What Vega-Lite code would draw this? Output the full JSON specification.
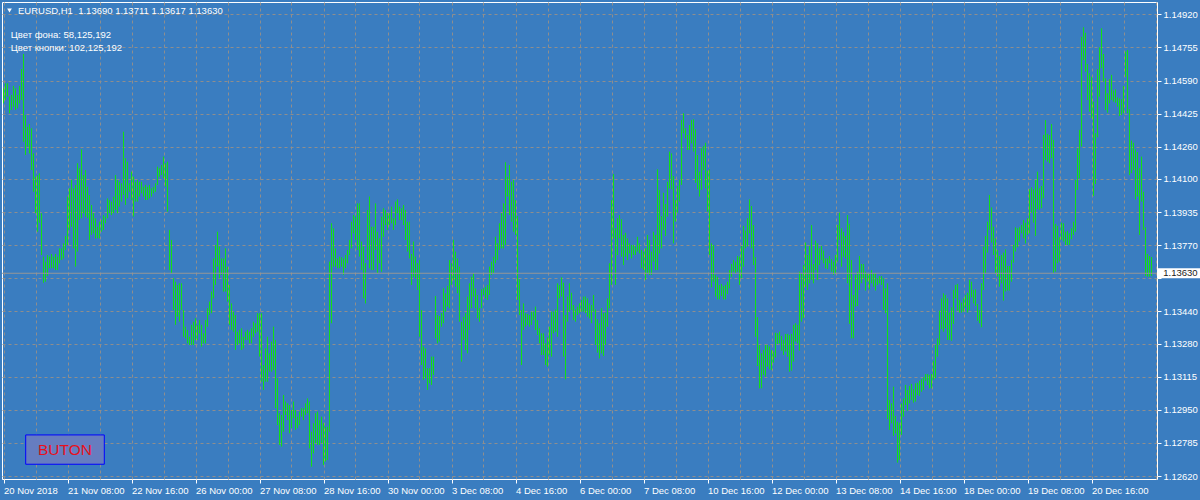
{
"$schema": "https://vega.github.io/schema/vega-lite/v6.json",
"width": 1155,
"height": 477,
"autosize": {"type": "none"},
"padding": {"left": 2, "top": 2, "right": 43, "bottom": 21},
"background": "#3a7dc0",
"config": {"view": {"stroke": "#ffffff", "strokeWidth": 1, "fill": null}},
"resolve": {"axis": {"x": "independent", "y": "independent"}, "scale": {"x": "shared", "y": "shared"}},
"datasets": {
"bars": [
{"t":0,"h":1.14551,"l":1.14476},{"t":1,"h":1.14576,"l":1.14493},{"t":2,"h":1.14576,"l":1.1451},{"t":3,"h":1.1451,"l":1.14427},{"t":4,"h":1.14518,"l":1.14443},{"t":5,"h":1.14563,"l":1.1446},{"t":6,"h":1.14551,"l":1.14443},{"t":7,"h":1.14518,"l":1.14451},{"t":8,"h":1.14563,"l":1.14476},{"t":9,"h":1.14647,"l":1.14493},
{"t":10,"h":1.14722,"l":1.14285},{"t":11,"h":1.14418,"l":1.14219},{"t":12,"h":1.1436,"l":1.14261},{"t":13,"h":1.14373,"l":1.14227},{"t":14,"h":1.14352,"l":1.14144},{"t":15,"h":1.14227,"l":1.14036},{"t":16,"h":1.14111,"l":1.13929},{"t":17,"h":1.14119,"l":1.13837},{"t":18,"h":1.14128,"l":1.13882},{"t":19,"h":1.13929,"l":1.13721},
{"t":20,"h":1.13713,"l":1.13583},{"t":21,"h":1.13688,"l":1.13588},{"t":22,"h":1.13721,"l":1.13616},{"t":23,"h":1.13713,"l":1.13655},{"t":24,"h":1.13726,"l":1.13655},{"t":25,"h":1.13713,"l":1.13655},{"t":26,"h":1.13726,"l":1.13646},{"t":27,"h":1.13713,"l":1.13646},{"t":28,"h":1.13754,"l":1.1368},{"t":29,"h":1.13754,"l":1.13696},
{"t":30,"h":1.13779,"l":1.13704},{"t":31,"h":1.13816,"l":1.13746},{"t":32,"h":1.14012,"l":1.13771},{"t":33,"h":1.14053,"l":1.13846},{"t":34,"h":1.14095,"l":1.13862},{"t":35,"h":1.14053,"l":1.13754},{"t":36,"h":1.1407,"l":1.13663},{"t":37,"h":1.14178,"l":1.13738},{"t":38,"h":1.14153,"l":1.13895},{"t":39,"h":1.14247,"l":1.13904},
{"t":40,"h":1.14119,"l":1.13929},{"t":41,"h":1.14144,"l":1.13912},{"t":42,"h":1.14061,"l":1.13904},{"t":43,"h":1.1402,"l":1.13796},{"t":44,"h":1.1397,"l":1.13821},{"t":45,"h":1.13929,"l":1.13829},{"t":46,"h":1.13904,"l":1.13804},{"t":47,"h":1.13862,"l":1.13804},{"t":48,"h":1.13887,"l":1.13804},{"t":49,"h":1.13895,"l":1.13837},
{"t":50,"h":1.1392,"l":1.13846},{"t":51,"h":1.13912,"l":1.13879},{"t":52,"h":1.14003,"l":1.13904},{"t":53,"h":1.13995,"l":1.13929},{"t":54,"h":1.13987,"l":1.1392},{"t":55,"h":1.14012,"l":1.13929},{"t":56,"h":1.14119,"l":1.13945},{"t":57,"h":1.14095,"l":1.13929},{"t":58,"h":1.14086,"l":1.13962},{"t":59,"h":1.14078,"l":1.13987},
{"t":60,"h":1.14335,"l":1.1402},{"t":61,"h":1.14203,"l":1.1397},{"t":62,"h":1.14186,"l":1.14003},{"t":63,"h":1.14078,"l":1.14036},{"t":64,"h":1.14136,"l":1.13995},{"t":65,"h":1.14111,"l":1.13912},{"t":66,"h":1.14086,"l":1.13987},{"t":67,"h":1.14095,"l":1.13987},{"t":68,"h":1.14086,"l":1.14012},{"t":69,"h":1.14086,"l":1.14028},
{"t":70,"h":1.14061,"l":1.14012},{"t":71,"h":1.1407,"l":1.13995},{"t":72,"h":1.14061,"l":1.13995},{"t":73,"h":1.1407,"l":1.14003},{"t":74,"h":1.14053,"l":1.14012},{"t":75,"h":1.14061,"l":1.14028},{"t":76,"h":1.14078,"l":1.14036},{"t":77,"h":1.14161,"l":1.1407},{"t":78,"h":1.14153,"l":1.14111},{"t":79,"h":1.14169,"l":1.14119},
{"t":80,"h":1.14211,"l":1.14103},{"t":81,"h":1.14178,"l":1.14061},{"t":82,"h":1.14186,"l":1.13937},{"t":83,"h":1.13846,"l":1.13646},{"t":84,"h":1.13796,"l":1.1363},{"t":85,"h":1.13605,"l":1.13447},{"t":86,"h":1.13588,"l":1.13373},{"t":87,"h":1.13572,"l":1.13414},{"t":88,"h":1.1358,"l":1.13389},{"t":89,"h":1.1358,"l":1.13447},
{"t":90,"h":1.13447,"l":1.13314},{"t":91,"h":1.13364,"l":1.13306},{"t":92,"h":1.13348,"l":1.13281},{"t":93,"h":1.13314,"l":1.13273},{"t":94,"h":1.13373,"l":1.13273},{"t":95,"h":1.13389,"l":1.13273},{"t":96,"h":1.13406,"l":1.13298},{"t":97,"h":1.13373,"l":1.13298},{"t":98,"h":1.13397,"l":1.13331},{"t":99,"h":1.13373,"l":1.13265},
{"t":100,"h":1.13331,"l":1.13281},{"t":101,"h":1.13397,"l":1.13281},{"t":102,"h":1.13456,"l":1.13364},{"t":103,"h":1.13489,"l":1.13422},{"t":104,"h":1.13539,"l":1.13431},{"t":105,"h":1.13704,"l":1.13505},{"t":106,"h":1.13771,"l":1.13572},{"t":107,"h":1.13837,"l":1.13663},{"t":108,"h":1.13763,"l":1.13605},{"t":109,"h":1.13704,"l":1.13622},
{"t":110,"h":1.13704,"l":1.13539},{"t":111,"h":1.13754,"l":1.13539},{"t":112,"h":1.13663,"l":1.13489},{"t":113,"h":1.13572,"l":1.13373},{"t":114,"h":1.1348,"l":1.13348},{"t":115,"h":1.13439,"l":1.13339},{"t":116,"h":1.13422,"l":1.13248},{"t":117,"h":1.13339,"l":1.13273},{"t":118,"h":1.13348,"l":1.13281},{"t":119,"h":1.13356,"l":1.13248},
{"t":120,"h":1.13314,"l":1.13256},{"t":121,"h":1.13339,"l":1.13298},{"t":122,"h":1.13348,"l":1.13298},{"t":123,"h":1.13339,"l":1.13281},{"t":124,"h":1.13356,"l":1.13281},{"t":125,"h":1.13389,"l":1.13314},{"t":126,"h":1.13381,"l":1.13331},{"t":127,"h":1.13431,"l":1.13339},{"t":128,"h":1.13431,"l":1.13215},{"t":129,"h":1.13431,"l":1.1309},
{"t":130,"h":1.13173,"l":1.13049},{"t":131,"h":1.13256,"l":1.1309},{"t":132,"h":1.13314,"l":1.1309},{"t":133,"h":1.13231,"l":1.1314},{"t":134,"h":1.1329,"l":1.1314},{"t":135,"h":1.13364,"l":1.13148},{"t":136,"h":1.13298,"l":1.12958},{"t":137,"h":1.13107,"l":1.12874},{"t":138,"h":1.12933,"l":1.12775},{"t":139,"h":1.12924,"l":1.12767},
{"t":140,"h":1.13024,"l":1.12841},{"t":141,"h":1.12991,"l":1.12924},{"t":142,"h":1.12982,"l":1.12899},{"t":143,"h":1.12974,"l":1.12833},{"t":144,"h":1.12949,"l":1.12858},{"t":145,"h":1.12991,"l":1.12908},{"t":146,"h":1.12949,"l":1.1285},{"t":147,"h":1.12916,"l":1.12858},{"t":148,"h":1.12941,"l":1.12874},{"t":149,"h":1.12958,"l":1.12916},
{"t":150,"h":1.12958,"l":1.12899},{"t":151,"h":1.12982,"l":1.12924},{"t":152,"h":1.13007,"l":1.12933},{"t":153,"h":1.12991,"l":1.12758},{"t":154,"h":1.12841,"l":1.12667},{"t":155,"h":1.12883,"l":1.12733},{"t":156,"h":1.12933,"l":1.12783},{"t":157,"h":1.12941,"l":1.12775},{"t":158,"h":1.12899,"l":1.12775},{"t":159,"h":1.12916,"l":1.12783},
{"t":160,"h":1.12883,"l":1.12675},{"t":161,"h":1.12866,"l":1.12692},{"t":162,"h":1.12866,"l":1.127},{"t":163,"h":1.13688,"l":1.12841},{"t":164,"h":1.13879,"l":1.13381},{"t":165,"h":1.13854,"l":1.13663},{"t":166,"h":1.13754,"l":1.13663},{"t":167,"h":1.13704,"l":1.13655},{"t":168,"h":1.13713,"l":1.13655},{"t":169,"h":1.1371,"l":1.13663},
{"t":170,"h":1.13704,"l":1.13622},{"t":171,"h":1.13721,"l":1.13655},{"t":172,"h":1.13746,"l":1.1368},{"t":173,"h":1.13796,"l":1.13721},{"t":174,"h":1.13887,"l":1.13754},{"t":175,"h":1.1392,"l":1.13829},{"t":176,"h":1.13912,"l":1.13796},{"t":177,"h":1.13978,"l":1.13746},{"t":178,"h":1.13978,"l":1.13713},{"t":179,"h":1.13788,"l":1.13646},
{"t":180,"h":1.13763,"l":1.13505},{"t":181,"h":1.1368,"l":1.1348},{"t":182,"h":1.13945,"l":1.13696},{"t":183,"h":1.14012,"l":1.13655},{"t":184,"h":1.13862,"l":1.13646},{"t":185,"h":1.13862,"l":1.13646},{"t":186,"h":1.13978,"l":1.13746},{"t":187,"h":1.13837,"l":1.1363},{"t":188,"h":1.13804,"l":1.1368},{"t":189,"h":1.13912,"l":1.13638},
{"t":190,"h":1.13954,"l":1.13812},{"t":191,"h":1.13945,"l":1.1387},{"t":192,"h":1.13929,"l":1.13846},{"t":193,"h":1.13929,"l":1.1387},{"t":194,"h":1.13962,"l":1.13879},{"t":195,"h":1.13904,"l":1.13846},{"t":196,"h":1.13987,"l":1.1387},{"t":197,"h":1.13998,"l":1.13929},{"t":198,"h":1.13962,"l":1.13895},{"t":199,"h":1.13954,"l":1.13895},
{"t":200,"h":1.1397,"l":1.1387},{"t":201,"h":1.13945,"l":1.13796},{"t":202,"h":1.13887,"l":1.13738},{"t":203,"h":1.13887,"l":1.13704},{"t":204,"h":1.13726,"l":1.13572},{"t":205,"h":1.13788,"l":1.13613},{"t":206,"h":1.13713,"l":1.13605},{"t":207,"h":1.1368,"l":1.13547},{"t":208,"h":1.13696,"l":1.13314},{"t":209,"h":1.13447,"l":1.13173},
{"t":210,"h":1.13265,"l":1.13099},{"t":211,"h":1.13256,"l":1.13107},{"t":212,"h":1.13157,"l":1.13049},{"t":213,"h":1.13157,"l":1.13082},{"t":214,"h":1.13215,"l":1.13074},{"t":215,"h":1.13215,"l":1.13124},{"t":216,"h":1.13517,"l":1.13306},{"t":217,"h":1.13422,"l":1.13281},{"t":218,"h":1.13417,"l":1.1329},{"t":219,"h":1.13431,"l":1.13364},
{"t":220,"h":1.13555,"l":1.13381},{"t":221,"h":1.1353,"l":1.13439},{"t":222,"h":1.13567,"l":1.13464},{"t":223,"h":1.13696,"l":1.13456},{"t":224,"h":1.1368,"l":1.13572},{"t":225,"h":1.13796,"l":1.13597},{"t":226,"h":1.13738,"l":1.13563},{"t":227,"h":1.13704,"l":1.1353},{"t":228,"h":1.13663,"l":1.13389},{"t":229,"h":1.13389,"l":1.1319},
{"t":230,"h":1.13414,"l":1.13298},{"t":231,"h":1.13431,"l":1.13248},{"t":232,"h":1.13514,"l":1.13231},{"t":233,"h":1.1358,"l":1.13348},{"t":234,"h":1.13613,"l":1.13456},{"t":235,"h":1.1363,"l":1.13514},{"t":236,"h":1.13555,"l":1.13456},{"t":237,"h":1.13522,"l":1.13406},{"t":238,"h":1.13456,"l":1.13389},{"t":239,"h":1.1355,"l":1.13456},
{"t":240,"h":1.13555,"l":1.13522},{"t":241,"h":1.13563,"l":1.13505},{"t":242,"h":1.13572,"l":1.13497},{"t":243,"h":1.13663,"l":1.13522},{"t":244,"h":1.13688,"l":1.13622},{"t":245,"h":1.13713,"l":1.1363},{"t":246,"h":1.13812,"l":1.1368},{"t":247,"h":1.13779,"l":1.13696},{"t":248,"h":1.13879,"l":1.13746},{"t":249,"h":1.13929,"l":1.13754},
{"t":250,"h":1.13978,"l":1.13754},{"t":251,"h":1.14183,"l":1.13771},{"t":252,"h":1.14111,"l":1.14012},{"t":253,"h":1.14169,"l":1.1392},{"t":254,"h":1.14086,"l":1.13887},{"t":255,"h":1.14095,"l":1.13837},{"t":256,"h":1.13995,"l":1.13821},{"t":257,"h":1.13915,"l":1.13497},{"t":258,"h":1.136,"l":1.13422},{"t":259,"h":1.13447,"l":1.13173},
{"t":260,"h":1.1348,"l":1.13348},{"t":261,"h":1.13431,"l":1.13364},{"t":262,"h":1.13427,"l":1.13373},{"t":263,"h":1.13422,"l":1.13364},{"t":264,"h":1.13439,"l":1.13373},{"t":265,"h":1.13439,"l":1.13397},{"t":266,"h":1.13464,"l":1.13348},{"t":267,"h":1.13397,"l":1.13323},{"t":268,"h":1.13356,"l":1.13281},{"t":269,"h":1.13331,"l":1.13223},
{"t":270,"h":1.13331,"l":1.13223},{"t":271,"h":1.13281,"l":1.13173},{"t":272,"h":1.13311,"l":1.13165},{"t":273,"h":1.13364,"l":1.13223},{"t":274,"h":1.13439,"l":1.13215},{"t":275,"h":1.13439,"l":1.13331},{"t":276,"h":1.1345,"l":1.13339},{"t":277,"h":1.1358,"l":1.13314},{"t":278,"h":1.13572,"l":1.13505},{"t":279,"h":1.1361,"l":1.13514},
{"t":280,"h":1.13583,"l":1.13215},{"t":281,"h":1.13422,"l":1.13102},{"t":282,"h":1.13514,"l":1.13389},{"t":283,"h":1.1358,"l":1.13439},{"t":284,"h":1.13533,"l":1.13447},{"t":285,"h":1.13472,"l":1.13397},{"t":286,"h":1.1345,"l":1.13389},{"t":287,"h":1.13464,"l":1.13422},{"t":288,"h":1.1348,"l":1.13431},{"t":289,"h":1.13497,"l":1.13439},
{"t":290,"h":1.13514,"l":1.13439},{"t":291,"h":1.13514,"l":1.13431},{"t":292,"h":1.13505,"l":1.13414},{"t":293,"h":1.1348,"l":1.13406},{"t":294,"h":1.13472,"l":1.13381},{"t":295,"h":1.13522,"l":1.13439},{"t":296,"h":1.1345,"l":1.13273},{"t":297,"h":1.13401,"l":1.13235},{"t":298,"h":1.13381,"l":1.13206},{"t":299,"h":1.13456,"l":1.13231},
{"t":300,"h":1.13431,"l":1.13218},{"t":301,"h":1.13434,"l":1.13273},{"t":302,"h":1.13505,"l":1.13364},{"t":303,"h":1.1368,"l":1.13456},{"t":304,"h":1.13995,"l":1.13572},{"t":305,"h":1.14124,"l":1.13804},{"t":306,"h":1.13854,"l":1.13572},{"t":307,"h":1.13904,"l":1.13721},{"t":308,"h":1.1392,"l":1.13804},{"t":309,"h":1.13899,"l":1.13713},
{"t":310,"h":1.13821,"l":1.13671},{"t":311,"h":1.13832,"l":1.13713},{"t":312,"h":1.13804,"l":1.13696},{"t":313,"h":1.13779,"l":1.13729},{"t":314,"h":1.13771,"l":1.13704},{"t":315,"h":1.13771,"l":1.13721},{"t":316,"h":1.13763,"l":1.13721},{"t":317,"h":1.13812,"l":1.13738},{"t":318,"h":1.13779,"l":1.13729},{"t":319,"h":1.13746,"l":1.13655},
{"t":320,"h":1.13738,"l":1.13646},{"t":321,"h":1.13754,"l":1.13597},{"t":322,"h":1.13821,"l":1.1363},{"t":323,"h":1.13796,"l":1.13622},{"t":324,"h":1.13738,"l":1.13622},{"t":325,"h":1.13837,"l":1.13688},{"t":326,"h":1.13821,"l":1.13646},{"t":327,"h":1.14148,"l":1.13646},{"t":328,"h":1.14045,"l":1.13729},{"t":329,"h":1.13915,"l":1.13754},
{"t":330,"h":1.14031,"l":1.13846},{"t":331,"h":1.13975,"l":1.13816},{"t":332,"h":1.14086,"l":1.13912},{"t":333,"h":1.14236,"l":1.14053},{"t":334,"h":1.14227,"l":1.14048},{"t":335,"h":1.14114,"l":1.13779},{"t":336,"h":1.13995,"l":1.13887},{"t":337,"h":1.14065,"l":1.13932},{"t":338,"h":1.14095,"l":1.13987},{"t":339,"h":1.14393,"l":1.1407},
{"t":340,"h":1.14427,"l":1.14327},{"t":341,"h":1.14352,"l":1.14302},{"t":342,"h":1.14319,"l":1.14244},{"t":343,"h":1.14368,"l":1.14244},{"t":344,"h":1.14393,"l":1.14277},{"t":345,"h":1.14397,"l":1.14236},{"t":346,"h":1.14347,"l":1.14081},{"t":347,"h":1.14219,"l":1.14048},{"t":348,"h":1.14136,"l":1.14012},{"t":349,"h":1.14252,"l":1.14045},
{"t":350,"h":1.14264,"l":1.14144},{"t":351,"h":1.1428,"l":1.14053},{"t":352,"h":1.14141,"l":1.13937},{"t":353,"h":1.14148,"l":1.13721},{"t":354,"h":1.13779,"l":1.1356},{"t":355,"h":1.13771,"l":1.13588},{"t":356,"h":1.13622,"l":1.13514},{"t":357,"h":1.13613,"l":1.135},{"t":358,"h":1.13572,"l":1.135},{"t":359,"h":1.13577,"l":1.13517},
{"t":360,"h":1.13567,"l":1.135},{"t":361,"h":1.13572,"l":1.135},{"t":362,"h":1.13588,"l":1.13527},{"t":363,"h":1.13646,"l":1.13555},{"t":364,"h":1.13676,"l":1.13613},{"t":365,"h":1.13696,"l":1.13638},{"t":366,"h":1.13688,"l":1.1363},{"t":367,"h":1.13716,"l":1.13638},{"t":368,"h":1.13713,"l":1.13572},{"t":369,"h":1.13766,"l":1.13605},
{"t":370,"h":1.13866,"l":1.13663},{"t":371,"h":1.13842,"l":1.13754},{"t":372,"h":1.13904,"l":1.13763},{"t":373,"h":1.13998,"l":1.13829},{"t":374,"h":1.13965,"l":1.13754},{"t":375,"h":1.1387,"l":1.13671},{"t":376,"h":1.1371,"l":1.13314},{"t":377,"h":1.13411,"l":1.13168},{"t":378,"h":1.13273,"l":1.13057},{"t":379,"h":1.13231,"l":1.13057},
{"t":380,"h":1.13248,"l":1.13124},{"t":381,"h":1.13273,"l":1.13115},{"t":382,"h":1.13273,"l":1.13165},{"t":383,"h":1.13265,"l":1.13152},{"t":384,"h":1.13248,"l":1.13148},{"t":385,"h":1.1324,"l":1.13185},{"t":386,"h":1.13334,"l":1.13211},{"t":387,"h":1.13331,"l":1.13278},{"t":388,"h":1.13339,"l":1.13281},{"t":389,"h":1.13318,"l":1.13245},
{"t":390,"h":1.13298,"l":1.13223},{"t":391,"h":1.13328,"l":1.1324},{"t":392,"h":1.13328,"l":1.13215},{"t":393,"h":1.13323,"l":1.1314},{"t":394,"h":1.13328,"l":1.13145},{"t":395,"h":1.13373,"l":1.1319},{"t":396,"h":1.13381,"l":1.1329},{"t":397,"h":1.13373,"l":1.13281},{"t":398,"h":1.13638,"l":1.13245},{"t":399,"h":1.1363,"l":1.13389},
{"t":400,"h":1.13671,"l":1.13406},{"t":401,"h":1.13783,"l":1.13563},{"t":402,"h":1.13721,"l":1.13547},{"t":403,"h":1.13766,"l":1.1358},{"t":404,"h":1.1387,"l":1.13597},{"t":405,"h":1.13676,"l":1.1358},{"t":406,"h":1.13793,"l":1.13646},{"t":407,"h":1.13779,"l":1.13597},{"t":408,"h":1.13754,"l":1.13671},{"t":409,"h":1.13766,"l":1.13696},
{"t":410,"h":1.13743,"l":1.1368},{"t":411,"h":1.13704,"l":1.13655},{"t":412,"h":1.13704,"l":1.1365},{"t":413,"h":1.13716,"l":1.1368},{"t":414,"h":1.137,"l":1.13638},{"t":415,"h":1.13688,"l":1.13622},{"t":416,"h":1.13721,"l":1.1363},{"t":417,"h":1.1387,"l":1.13688},{"t":418,"h":1.13932,"l":1.13796},{"t":419,"h":1.13854,"l":1.13663},
{"t":420,"h":1.13837,"l":1.13713},{"t":421,"h":1.13816,"l":1.13704},{"t":422,"h":1.1392,"l":1.1358},{"t":423,"h":1.13876,"l":1.13378},{"t":424,"h":1.13696,"l":1.13306},{"t":425,"h":1.13522,"l":1.13306},{"t":426,"h":1.13622,"l":1.13464},{"t":427,"h":1.13638,"l":1.13467},{"t":428,"h":1.13716,"l":1.13547},{"t":429,"h":1.13676,"l":1.1358},
{"t":430,"h":1.13676,"l":1.13605},{"t":431,"h":1.13638,"l":1.13544},{"t":432,"h":1.1363,"l":1.13588},{"t":433,"h":1.13627,"l":1.1355},{"t":434,"h":1.13646,"l":1.1358},{"t":435,"h":1.1363,"l":1.13563},{"t":436,"h":1.1363,"l":1.13544},{"t":437,"h":1.13605,"l":1.13572},{"t":438,"h":1.13616,"l":1.1358},{"t":439,"h":1.13616,"l":1.13572},
{"t":440,"h":1.13605,"l":1.13447},{"t":441,"h":1.13555,"l":1.13431},{"t":442,"h":1.1358,"l":1.12903},{"t":443,"h":1.12999,"l":1.1285},{"t":444,"h":1.12982,"l":1.12883},{"t":445,"h":1.13065,"l":1.1282},{"t":446,"h":1.12919,"l":1.12833},{"t":447,"h":1.12891,"l":1.12687},{"t":448,"h":1.12886,"l":1.127},{"t":449,"h":1.12982,"l":1.12825},
{"t":450,"h":1.13007,"l":1.12916},{"t":451,"h":1.13074,"l":1.12974},{"t":452,"h":1.13049,"l":1.12946},{"t":453,"h":1.13069,"l":1.12982},{"t":454,"h":1.13079,"l":1.12999},{"t":455,"h":1.13052,"l":1.12986},{"t":456,"h":1.13082,"l":1.12991},{"t":457,"h":1.13085,"l":1.13024},{"t":458,"h":1.13095,"l":1.13019},{"t":459,"h":1.13102,"l":1.1304},
{"t":460,"h":1.13112,"l":1.13049},{"t":461,"h":1.13128,"l":1.13095},{"t":462,"h":1.13128,"l":1.13074},{"t":463,"h":1.13124,"l":1.13057},{"t":464,"h":1.13128,"l":1.13057},{"t":465,"h":1.13195,"l":1.13099},{"t":466,"h":1.13273,"l":1.13107},{"t":467,"h":1.13306,"l":1.13215},{"t":468,"h":1.13444,"l":1.13273},{"t":469,"h":1.13505,"l":1.13351},
{"t":470,"h":1.1353,"l":1.13339},{"t":471,"h":1.13522,"l":1.13356},{"t":472,"h":1.13505,"l":1.13298},{"t":473,"h":1.13434,"l":1.13298},{"t":474,"h":1.1346,"l":1.13294},{"t":475,"h":1.13547,"l":1.13378},{"t":476,"h":1.13572,"l":1.13505},{"t":477,"h":1.13577,"l":1.13444},{"t":478,"h":1.13497,"l":1.13434},{"t":479,"h":1.13484,"l":1.13434},
{"t":480,"h":1.13505,"l":1.13439},{"t":481,"h":1.13522,"l":1.1346},{"t":482,"h":1.13533,"l":1.13434},{"t":483,"h":1.13597,"l":1.13447},{"t":484,"h":1.13588,"l":1.1351},{"t":485,"h":1.13547,"l":1.1348},{"t":486,"h":1.1355,"l":1.13467},{"t":487,"h":1.13477,"l":1.13394},{"t":488,"h":1.13447,"l":1.13381},{"t":489,"h":1.1358,"l":1.13361},
{"t":490,"h":1.13763,"l":1.13547},{"t":491,"h":1.13816,"l":1.1363},{"t":492,"h":1.13887,"l":1.13733},{"t":493,"h":1.1402,"l":1.13846},{"t":494,"h":1.13958,"l":1.13783},{"t":495,"h":1.13862,"l":1.13721},{"t":496,"h":1.13804,"l":1.1363},{"t":497,"h":1.13746,"l":1.13613},{"t":498,"h":1.13716,"l":1.13563},{"t":499,"h":1.13721,"l":1.1358},
{"t":500,"h":1.13733,"l":1.13494},{"t":501,"h":1.13749,"l":1.13539},{"t":502,"h":1.13666,"l":1.13544},{"t":503,"h":1.13666,"l":1.13544},{"t":504,"h":1.13696,"l":1.13588},{"t":505,"h":1.13771,"l":1.13683},{"t":506,"h":1.13859,"l":1.13738},{"t":507,"h":1.13854,"l":1.13759},{"t":508,"h":1.13859,"l":1.13788},{"t":509,"h":1.1387,"l":1.13829},
{"t":510,"h":1.13895,"l":1.13804},{"t":511,"h":1.13882,"l":1.13779},{"t":512,"h":1.13904,"l":1.13821},{"t":513,"h":1.14048,"l":1.13829},{"t":514,"h":1.14058,"l":1.13932},{"t":515,"h":1.14048,"l":1.13882},{"t":516,"h":1.14095,"l":1.13816},{"t":517,"h":1.14136,"l":1.13949},{"t":518,"h":1.14053,"l":1.13945},{"t":519,"h":1.14065,"l":1.13954},
{"t":520,"h":1.14319,"l":1.14003},{"t":521,"h":1.14393,"l":1.14194},{"t":522,"h":1.14324,"l":1.14186},{"t":523,"h":1.14319,"l":1.14178},{"t":524,"h":1.14373,"l":1.14203},{"t":525,"h":1.14294,"l":1.13633},{"t":526,"h":1.13876,"l":1.13638},{"t":527,"h":1.13866,"l":1.1368},{"t":528,"h":1.13809,"l":1.13688},{"t":529,"h":1.13882,"l":1.13796},
{"t":530,"h":1.13879,"l":1.13788},{"t":531,"h":1.13837,"l":1.13771},{"t":532,"h":1.13842,"l":1.13771},{"t":533,"h":1.13829,"l":1.13771},{"t":534,"h":1.13854,"l":1.13799},{"t":535,"h":1.13887,"l":1.13821},{"t":536,"h":1.14095,"l":1.13837},{"t":537,"h":1.14252,"l":1.14045},{"t":538,"h":1.14344,"l":1.14103},{"t":539,"h":1.14808,"l":1.14261},
{"t":540,"h":1.14855,"l":1.14692},{"t":541,"h":1.14828,"l":1.14634},{"t":542,"h":1.14672,"l":1.14493},{"t":543,"h":1.14626,"l":1.14435},{"t":544,"h":1.14609,"l":1.14402},{"t":545,"h":1.14485,"l":1.14015},{"t":546,"h":1.14327,"l":1.14075},{"t":547,"h":1.14646,"l":1.14307},{"t":548,"h":1.14755,"l":1.1451},{"t":549,"h":1.1485,"l":1.14651},
{"t":550,"h":1.14722,"l":1.14584},{"t":551,"h":1.14601,"l":1.14443},{"t":552,"h":1.14526,"l":1.1443},{"t":553,"h":1.14596,"l":1.14476},{"t":554,"h":1.14618,"l":1.14493},{"t":555,"h":1.1454,"l":1.14485},{"t":556,"h":1.14546,"l":1.1448},{"t":557,"h":1.14506,"l":1.1446},{"t":558,"h":1.14501,"l":1.14413},{"t":559,"h":1.14496,"l":1.14418},
{"t":560,"h":1.14563,"l":1.14427},{"t":561,"h":1.14734,"l":1.14609},{"t":562,"h":1.14742,"l":1.14427},{"t":563,"h":1.14447,"l":1.14119},{"t":564,"h":1.14291,"l":1.14128},{"t":565,"h":1.1428,"l":1.14144},{"t":566,"h":1.14247,"l":1.13998},{"t":567,"h":1.14234,"l":1.14012},{"t":568,"h":1.14153,"l":1.13821},{"t":569,"h":1.14211,"l":1.13987},
{"t":570,"h":1.14036,"l":1.13846},{"t":571,"h":1.13859,"l":1.13616},{"t":572,"h":1.13726,"l":1.13613},{"t":573,"h":1.13716,"l":1.13613},{"t":574,"h":1.13711,"l":1.13617}
],
"current": [{"p": 1.1363, "label": "1.13630", "t0": 577.25, "t1": 598.25, "lo": 1.13605, "hi": 1.13655, "tl": 579.9}],
"header": [{"t": 7.25, "p": 1.14938, "s": "EURUSD,H1\u00a0 1.13690 1.13711 1.13617 1.13630"}],
"marker": [{"t": 3.0, "p": 1.14939}],
"info": [{"t": 3.6, "p": 1.14817, "s": "Цвет фона: 58,125,192"}, {"t": 3.6, "p": 1.14753, "s": "Цвет кнопки: 102,125,192"}],
"button": [{"t0": 11.1, "t1": 50.4, "lo": 1.12679, "hi": 1.12825, "tc": 30.75, "pc": 1.12752, "s": "BUTON"}]
},
"layer": [
{
"data": {"name": "bars"},
"mark": {"type": "rule", "color": "#12e012", "strokeWidth": 1},
"encoding": {
"x": {"field": "t", "type": "quantitative", "scale": {"domain": [-0.75, 576.75], "nice": false, "zero": false},
"axis": {"orient": "bottom", "title": null,
"values": [0,16,32,48,64,80,96,112,128,144,160,176,192,208,224,240,256,272,288,304,320,336,352,368,384,400,416,432,448,464,480,496,512,528,544,560,576],
"labelExpr": "(datum.value % 32 == 0 && datum.value < 560) ? ['20 Nov 2018','21 Nov 08:00','22 Nov 16:00','26 Nov 00:00','27 Nov 08:00','28 Nov 16:00','30 Nov 00:00','3 Dec 08:00','4 Dec 16:00','6 Dec 00:00','7 Dec 08:00','10 Dec 16:00','12 Dec 00:00','13 Dec 08:00','14 Dec 16:00','18 Dec 00:00','19 Dec 08:00','20 Dec 16:00'][datum.value / 32] : ''",
"grid": true, "gridColor": "#8e8e8e", "gridDash": [3, 3], "gridWidth": 1,
"domain": false, "ticks": true, "tickColor": "#ffffff", "tickSize": 4, "tickWidth": 1,
"tickOpacity": {"condition": {"test": "datum.value % 32 == 0 && datum.value < 560", "value": 1}, "value": 0},
"labelColor": "#ffffff", "labelFont": "Liberation Sans", "labelFontSize": 9.5, "labelPadding": 2,
"labelAlign": "left", "labelBaseline": "top", "labelOverlap": false, "labelBound": false, "labelFlush": false}},
"y": {"field": "h", "type": "quantitative", "scale": {"domain": [1.126055, 1.14981], "nice": false, "zero": false},
"axis": {"orient": "right", "title": null,
"values": [1.1492, 1.14755, 1.1459, 1.14425, 1.1426, 1.141, 1.13935, 1.1377, 1.13605, 1.1344, 1.1328, 1.13115, 1.1295, 1.12785, 1.1262],
"labelExpr": "abs(datum.value - 1.13605) < 0.000001 ? '' : format(datum.value, '.5f')",
"grid": true, "gridColor": "#8e8e8e", "gridDash": [3, 3], "gridWidth": 1,
"domain": false, "ticks": true, "tickColor": "#ffffff", "tickSize": 4, "tickWidth": 1,
"labelColor": "#ffffff", "labelFont": "Liberation Sans", "labelFontSize": 9.5, "labelPadding": 2,
"labelAlign": "left", "labelBaseline": "middle", "labelOverlap": false, "labelBound": false, "labelFlush": false}},
"y2": {"field": "l"}
}
},
{
"data": {"name": "current"},
"mark": {"type": "rule", "color": "#969696", "strokeWidth": 1},
"encoding": {
"y": {"field": "p", "type": "quantitative", "scale": {"domain": [1.126055, 1.14981], "nice": false, "zero": false}, "axis": null}
}
},
{
"data": {"name": "current"},
"mark": {"type": "rect", "fill": "#ffffff", "stroke": null},
"encoding": {
"x": {"field": "t0", "type": "quantitative", "scale": {"domain": [-0.75, 576.75], "nice": false, "zero": false}, "axis": null},
"x2": {"field": "t1"},
"y": {"field": "lo", "type": "quantitative", "scale": {"domain": [1.126055, 1.14981], "nice": false, "zero": false}, "axis": null},
"y2": {"field": "hi"}
}
},
{
"data": {"name": "current"},
"mark": {"type": "text", "color": "#1a1a1a", "font": "Liberation Sans", "fontSize": 9.5, "align": "left", "baseline": "middle"},
"encoding": {
"x": {"field": "tl", "type": "quantitative", "scale": {"domain": [-0.75, 576.75], "nice": false, "zero": false}, "axis": null},
"y": {"field": "p", "type": "quantitative", "scale": {"domain": [1.126055, 1.14981], "nice": false, "zero": false}, "axis": null},
"text": {"field": "label"}
}
},
{
"data": {"name": "header"},
"mark": {"type": "text", "color": "#ffffff", "font": "Liberation Sans", "fontSize": 9.5, "align": "left", "baseline": "middle"},
"encoding": {
"x": {"field": "t", "type": "quantitative", "scale": {"domain": [-0.75, 576.75], "nice": false, "zero": false}, "axis": null},
"y": {"field": "p", "type": "quantitative", "scale": {"domain": [1.126055, 1.14981], "nice": false, "zero": false}, "axis": null},
"text": {"field": "s"}
}
},
{
"data": {"name": "marker"},
"mark": {"type": "point", "shape": "triangle-down", "filled": true, "color": "#ffffff", "size": 22, "opacity": 1},
"encoding": {
"x": {"field": "t", "type": "quantitative", "scale": {"domain": [-0.75, 576.75], "nice": false, "zero": false}, "axis": null},
"y": {"field": "p", "type": "quantitative", "scale": {"domain": [1.126055, 1.14981], "nice": false, "zero": false}, "axis": null}
}
},
{
"data": {"name": "info"},
"mark": {"type": "text", "color": "#ffffff", "font": "Liberation Sans", "fontSize": 9.5, "align": "left", "baseline": "middle"},
"encoding": {
"x": {"field": "t", "type": "quantitative", "scale": {"domain": [-0.75, 576.75], "nice": false, "zero": false}, "axis": null},
"y": {"field": "p", "type": "quantitative", "scale": {"domain": [1.126055, 1.14981], "nice": false, "zero": false}, "axis": null},
"text": {"field": "s"}
}
},
{
"data": {"name": "button"},
"mark": {"type": "rect", "fill": "#667dc0", "stroke": "#0000ff", "strokeWidth": 1},
"encoding": {
"x": {"field": "t0", "type": "quantitative", "scale": {"domain": [-0.75, 576.75], "nice": false, "zero": false}, "axis": null},
"x2": {"field": "t1"},
"y": {"field": "lo", "type": "quantitative", "scale": {"domain": [1.126055, 1.14981], "nice": false, "zero": false}, "axis": null},
"y2": {"field": "hi"}
}
},
{
"data": {"name": "button"},
"mark": {"type": "text", "color": "#e8101c", "font": "Liberation Sans", "fontSize": 15.5, "align": "center", "baseline": "middle"},
"encoding": {
"x": {"field": "tc", "type": "quantitative", "scale": {"domain": [-0.75, 576.75], "nice": false, "zero": false}, "axis": null},
"y": {"field": "pc", "type": "quantitative", "scale": {"domain": [1.126055, 1.14981], "nice": false, "zero": false}, "axis": null},
"text": {"field": "s"}
}
}
]
}
